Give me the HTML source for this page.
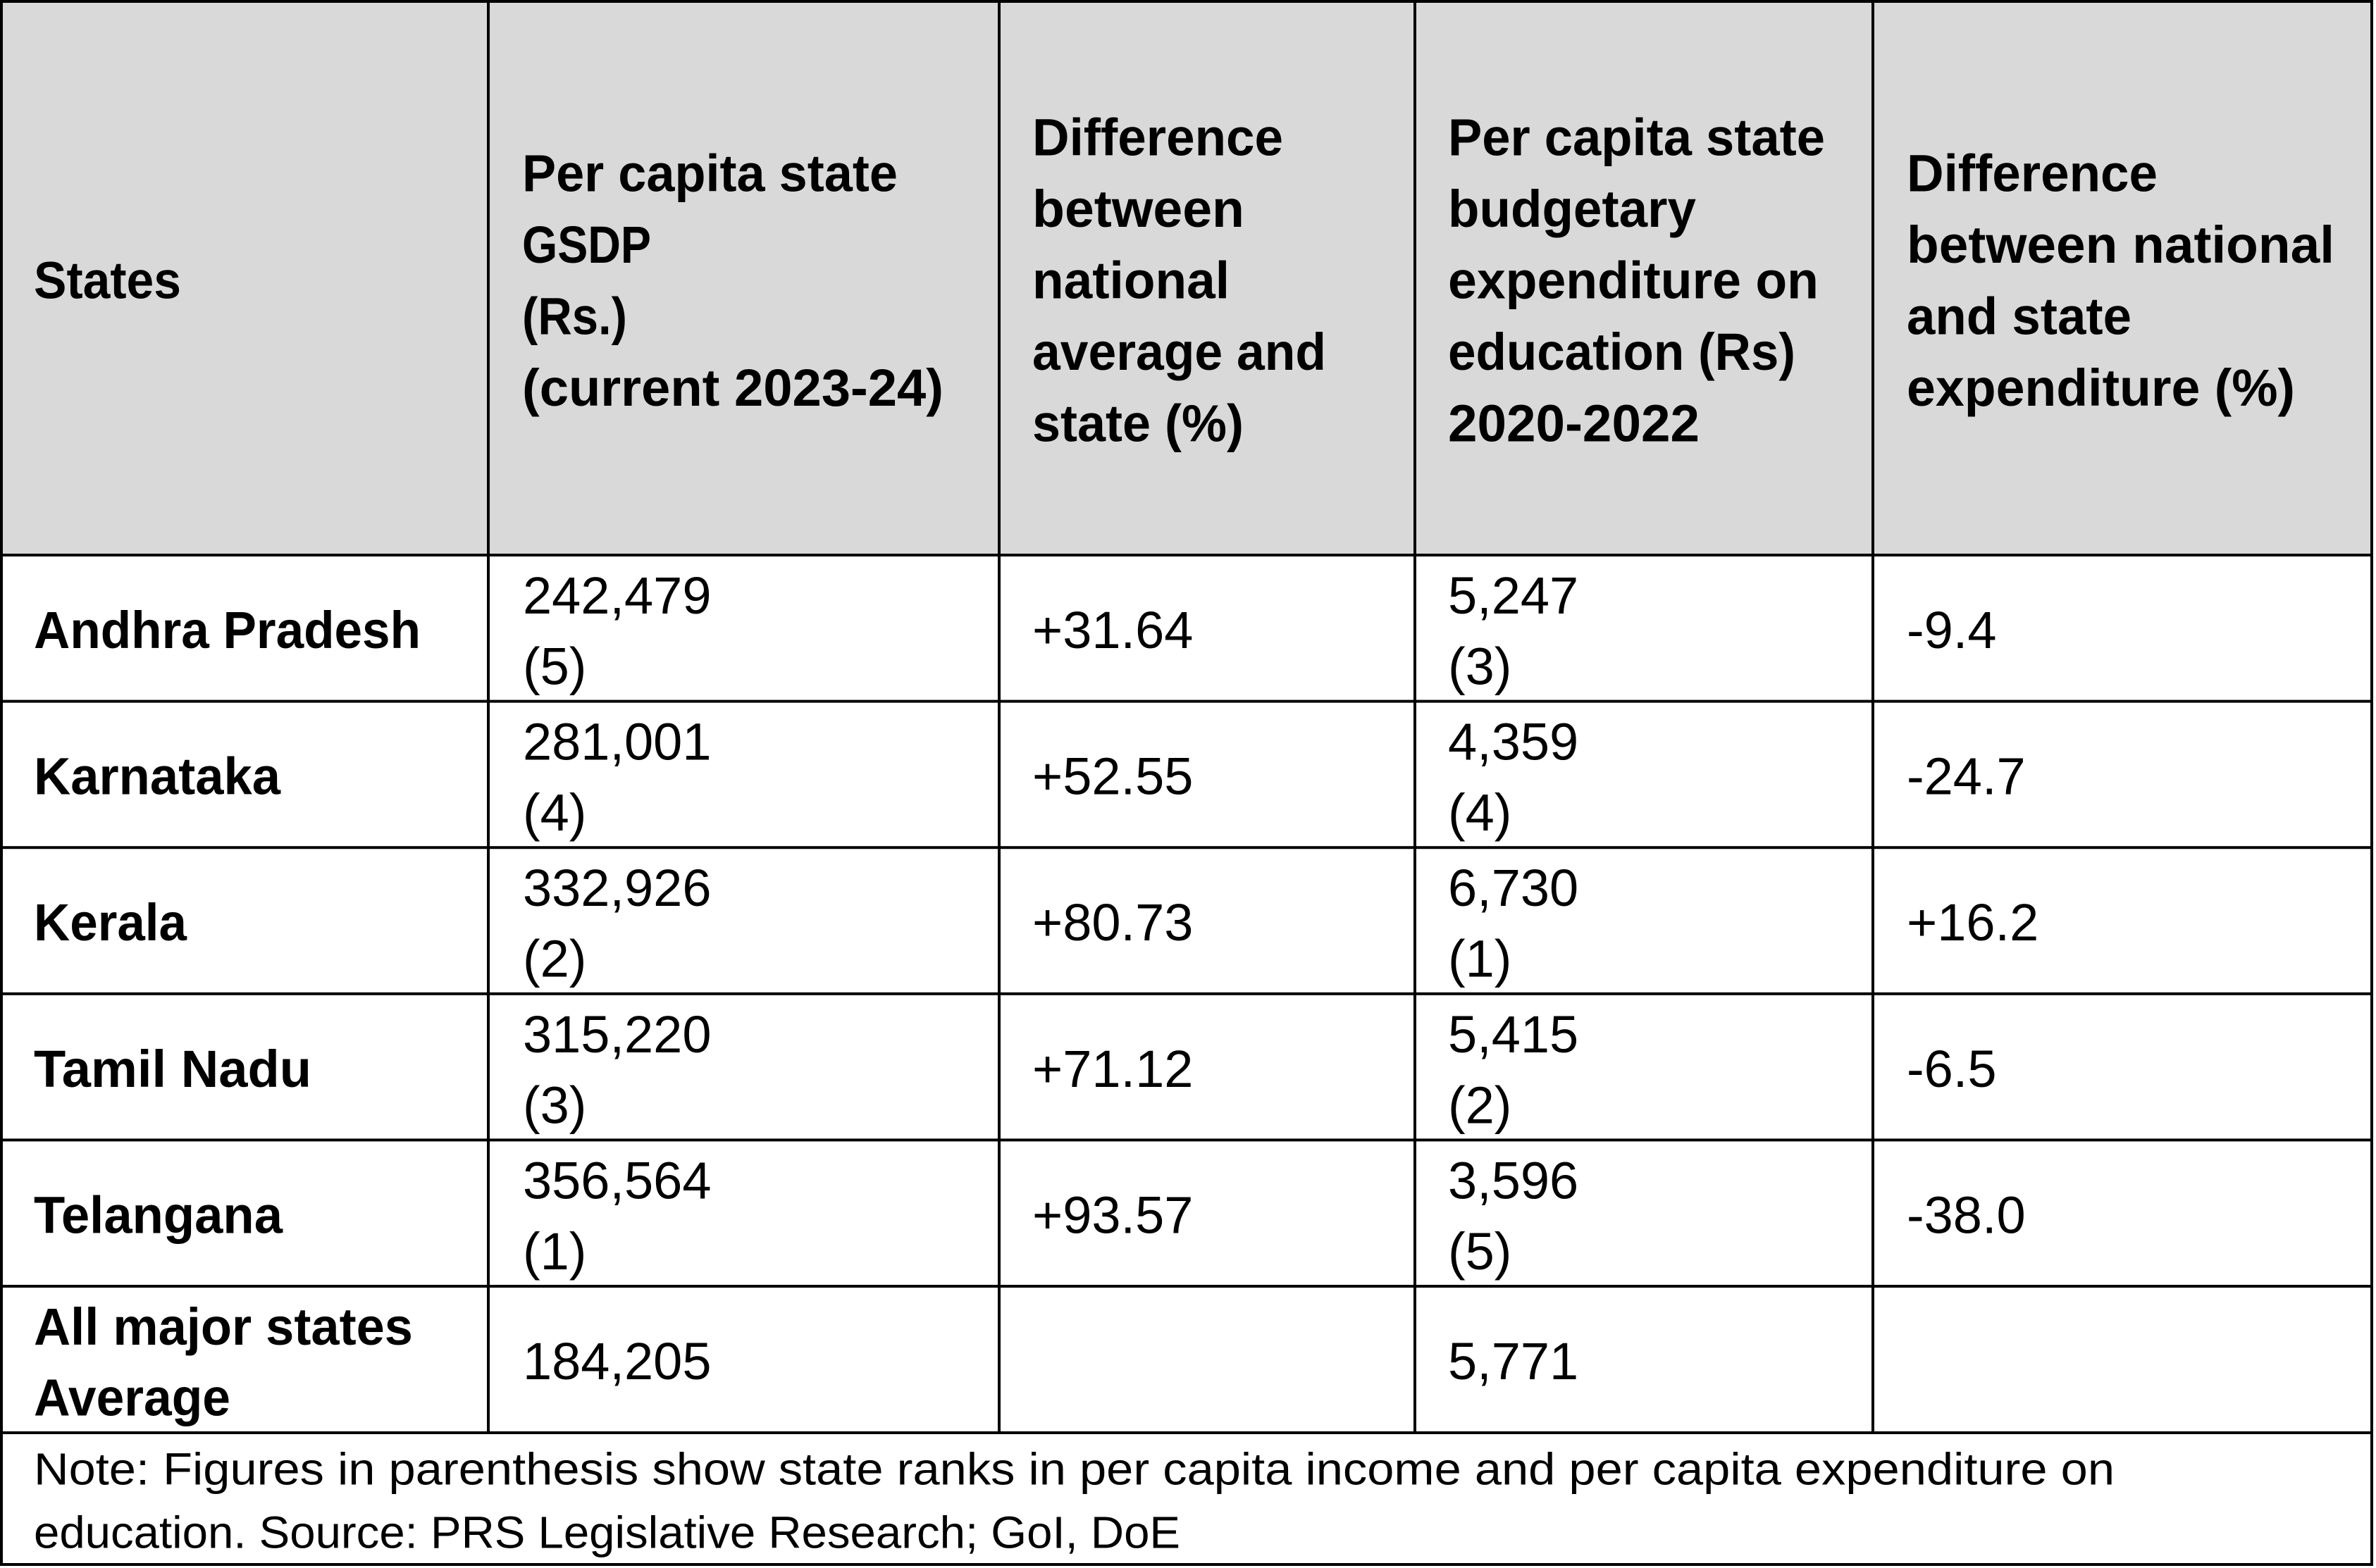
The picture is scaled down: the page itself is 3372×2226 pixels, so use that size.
<!DOCTYPE html>
<html>
<head>
<meta charset="utf-8">
<style>
  html,body{margin:0;padding:0;background:#fff;}
  svg{display:block;}
  text{font-family:"Liberation Sans", Arial, sans-serif;fill:#000;}
  .r{font-size:74px;font-weight:normal;}
  .b{font-size:74px;font-weight:bold;}
  .n{font-size:64px;font-weight:normal;}
</style>
</head>
<body>
<svg width="3372" height="2226" viewBox="0 0 3372 2226" xmlns="http://www.w3.org/2000/svg">
  <rect x="0" y="0" width="3372" height="2226" fill="#ffffff"/>
  <!-- header background -->
  <rect x="0" y="0" width="3368" height="788" fill="#D9D9D9"/>

  <!-- horizontal lines -->
  <rect x="0" y="0" width="3368" height="4" fill="#000"/>
  <rect x="0" y="786" width="3368" height="4" fill="#000"/>
  <rect x="0" y="993.6" width="3368" height="4" fill="#000"/>
  <rect x="0" y="1201.2" width="3368" height="4" fill="#000"/>
  <rect x="0" y="1408.8" width="3368" height="4" fill="#000"/>
  <rect x="0" y="1616.4" width="3368" height="4" fill="#000"/>
  <rect x="0" y="1824" width="3368" height="4" fill="#000"/>
  <rect x="0" y="2032" width="3368" height="4" fill="#000"/>
  <rect x="0" y="2219" width="3368" height="4" fill="#000"/>

  <!-- vertical lines -->
  <rect x="0" y="0" width="4" height="2223" fill="#000"/>
  <rect x="3364" y="0" width="4" height="2223" fill="#000"/>
  <rect x="691" y="0" width="4" height="2034" fill="#000"/>
  <rect x="1416" y="0" width="4" height="2034" fill="#000"/>
  <rect x="2006" y="0" width="4" height="2034" fill="#000"/>
  <rect x="2656" y="0" width="4" height="2034" fill="#000"/>

  <!-- header col 1 -->
  <text class="b" x="48" y="423.5" textLength="209" lengthAdjust="spacingAndGlyphs">States</text>

  <!-- header col 2 -->
  <text class="b" x="741" y="271.25" textLength="533" lengthAdjust="spacingAndGlyphs">Per capita state</text>
  <text class="b" x="741" y="372.75" textLength="183" lengthAdjust="spacingAndGlyphs">GSDP</text>
  <text class="b" x="741" y="474.25" textLength="149" lengthAdjust="spacingAndGlyphs">(Rs.)</text>
  <text class="b" x="741" y="575.75" textLength="598" lengthAdjust="spacingAndGlyphs">(current 2023-24)</text>

  <!-- header col 3 -->
  <text class="b" x="1465" y="220.5" textLength="356" lengthAdjust="spacingAndGlyphs">Difference</text>
  <text class="b" x="1465" y="322" textLength="301" lengthAdjust="spacingAndGlyphs">between</text>
  <text class="b" x="1465" y="423.5" textLength="280" lengthAdjust="spacingAndGlyphs">national</text>
  <text class="b" x="1465" y="525" textLength="417" lengthAdjust="spacingAndGlyphs">average and</text>
  <text class="b" x="1465" y="626.5" textLength="300" lengthAdjust="spacingAndGlyphs">state (%)</text>

  <!-- header col 4 -->
  <text class="b" x="2055" y="220.5" textLength="535" lengthAdjust="spacingAndGlyphs">Per capita state</text>
  <text class="b" x="2055" y="322" textLength="352" lengthAdjust="spacingAndGlyphs">budgetary</text>
  <text class="b" x="2055" y="423.5" textLength="526" lengthAdjust="spacingAndGlyphs">expenditure on</text>
  <text class="b" x="2055" y="525" textLength="493" lengthAdjust="spacingAndGlyphs">education (Rs)</text>
  <text class="b" x="2055" y="626.5" textLength="357" lengthAdjust="spacingAndGlyphs">2020-2022</text>

  <!-- header col 5 -->
  <text class="b" x="2706" y="271.25" textLength="356" lengthAdjust="spacingAndGlyphs">Difference</text>
  <text class="b" x="2706" y="372.75" textLength="607" lengthAdjust="spacingAndGlyphs">between national</text>
  <text class="b" x="2706" y="474.25" textLength="319" lengthAdjust="spacingAndGlyphs">and state</text>
  <text class="b" x="2706" y="575.75" textLength="551" lengthAdjust="spacingAndGlyphs">expenditure (%)</text>

  <!-- Row 0: Andhra Pradesh (T=788) -->
  <text class="b" x="48" y="920" textLength="549" lengthAdjust="spacingAndGlyphs">Andhra Pradesh</text>
  <text class="r" x="742" y="871">242,479</text>
  <text class="r" x="742" y="971.5">(5)</text>
  <text class="r" x="1465" y="920">+31.64</text>
  <text class="r" x="2055" y="871">5,247</text>
  <text class="r" x="2055" y="971.5">(3)</text>
  <text class="r" x="2706" y="920">-9.4</text>

  <!-- Row 1: Karnataka (T=995.6) -->
  <text class="b" x="48" y="1127.6" textLength="350" lengthAdjust="spacingAndGlyphs">Karnataka</text>
  <text class="r" x="742" y="1078.6">281,001</text>
  <text class="r" x="742" y="1179.1">(4)</text>
  <text class="r" x="1465" y="1127.6">+52.55</text>
  <text class="r" x="2055" y="1078.6">4,359</text>
  <text class="r" x="2055" y="1179.1">(4)</text>
  <text class="r" x="2706" y="1127.6">-24.7</text>

  <!-- Row 2: Kerala (T=1203.2) -->
  <text class="b" x="48" y="1335.2" textLength="217" lengthAdjust="spacingAndGlyphs">Kerala</text>
  <text class="r" x="742" y="1286.2">332,926</text>
  <text class="r" x="742" y="1386.7">(2)</text>
  <text class="r" x="1465" y="1335.2">+80.73</text>
  <text class="r" x="2055" y="1286.2">6,730</text>
  <text class="r" x="2055" y="1386.7">(1)</text>
  <text class="r" x="2706" y="1335.2">+16.2</text>

  <!-- Row 3: Tamil Nadu (T=1410.8) -->
  <text class="b" x="48" y="1542.8" textLength="394" lengthAdjust="spacingAndGlyphs">Tamil Nadu</text>
  <text class="r" x="742" y="1493.8">315,220</text>
  <text class="r" x="742" y="1594.3">(3)</text>
  <text class="r" x="1465" y="1542.8">+71.12</text>
  <text class="r" x="2055" y="1493.8">5,415</text>
  <text class="r" x="2055" y="1594.3">(2)</text>
  <text class="r" x="2706" y="1542.8">-6.5</text>

  <!-- Row 4: Telangana (T=1618.4) -->
  <text class="b" x="48" y="1750.4" textLength="353" lengthAdjust="spacingAndGlyphs">Telangana</text>
  <text class="r" x="742" y="1701.4">356,564</text>
  <text class="r" x="742" y="1801.9">(1)</text>
  <text class="r" x="1465" y="1750.4">+93.57</text>
  <text class="r" x="2055" y="1701.4">3,596</text>
  <text class="r" x="2055" y="1801.9">(5)</text>
  <text class="r" x="2706" y="1750.4">-38.0</text>

  <!-- Row 5: All major states Average (T=1826) -->
  <text class="b" x="48" y="1909" textLength="538" lengthAdjust="spacingAndGlyphs">All major states</text>
  <text class="b" x="48" y="2009.5" textLength="279" lengthAdjust="spacingAndGlyphs">Average</text>
  <text class="r" x="742" y="1958">184,205</text>
  <text class="r" x="2055" y="1958">5,771</text>

  <!-- Note -->
  <text class="n" x="48" y="2107.7" textLength="2953" lengthAdjust="spacingAndGlyphs">Note: Figures in parenthesis show state ranks in per capita income and per capita expenditure on</text>
  <text class="n" x="48" y="2197.7" textLength="1627" lengthAdjust="spacingAndGlyphs">education. Source: PRS Legislative Research; GoI, DoE</text>
</svg>
</body>
</html>
